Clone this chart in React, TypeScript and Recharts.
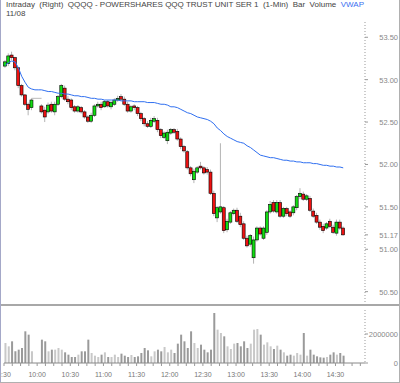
import React from "react";
import { ComposedChart, Bar, Line, XAxis, YAxis, ReferenceLine, Cell } from "recharts";

// 3-minute bars starting 09:31 (minutes after 09:30)
const FIRST_MIN = 1;
const BAR_MIN = 3;

const open = [
  53.16, 53.19, 53.29, 53.26, 53.14, 52.93, 52.82, 52.71, 52.67, null, null,
  52.69, 52.64, 52.62, 52.71, 52.62, 52.71, 52.80, 52.90, 52.77, 52.76,
  52.68, 52.63, 52.67, 52.62, 52.56, 52.51, 52.58, 52.69, 52.71, 52.68,
  52.74, 52.68, 52.71, 52.76, 52.80, 52.77, 52.71, 52.63, 52.69, 52.67,
  52.60, 52.54, 52.48, 52.45, 52.51, 52.52, 52.41, 52.32, 52.28, 52.37,
  52.41, 52.39, 52.30, 52.21, 52.15, 51.96, 51.82, 51.91, 51.98, 51.96,
  51.94, 51.91, 51.66, 51.37, 51.44, 51.49, 51.23, 51.32, 51.42, 51.46,
  51.39, 51.30, 51.13, 51.06, 50.90, 51.11, 51.25, 51.13, 51.20, 51.44,
  51.55, 51.44, 51.55, 51.39, 51.48, 51.44, 51.43, 51.49, 51.62, 51.65,
  51.59, 51.60, 51.45, 51.40, 51.32, 51.27, 51.25, 51.33, 51.26, 51.19,
  51.32, 51.25,
];
const close = [
  53.21, 53.28, 53.26, 53.14, 52.93, 52.82, 52.71, 52.65, 52.76, null, null,
  52.62, 52.56, 52.70, 52.63, 52.71, 52.80, 52.93, 52.77, 52.74, 52.67,
  52.63, 52.68, 52.62, 52.56, 52.51, 52.58, 52.69, 52.71, 52.67, 52.74,
  52.69, 52.73, 52.76, 52.78, 52.77, 52.71, 52.63, 52.68, 52.67, 52.60,
  52.54, 52.48, 52.45, 52.52, 52.54, 52.41, 52.34, 52.37, 52.38, 52.41,
  52.38, 52.30, 52.21, 52.16, 51.96, 51.89, 51.92, 51.96, 51.96, 51.90,
  51.91, 51.66, 51.42, 51.49, 51.50, 51.22, 51.33, 51.43, 51.46, 51.33,
  51.29, 51.13, 51.04, 51.16, 51.11, 51.25, 51.18, 51.25, 51.44, 51.53,
  51.45, 51.55, 51.39, 51.48, 51.42, 51.39, 51.50, 51.62, 51.66, 51.59,
  51.63, 51.46, 51.39, 51.32, 51.26, 51.22, 51.30, 51.27, 51.20, 51.32,
  51.25, 51.17,
];
const high = [
  53.23, 53.31, 53.33, 53.27, 53.15, 52.95, 52.83, 52.73, 52.78, null, null,
  52.71, 52.68, 52.73, 52.74, 52.74, 52.82, 52.95, 52.93, 52.81, 52.78,
  52.70, 52.70, 52.69, 52.64, 52.58, 52.61, 52.71, 52.74, 52.74, 52.76,
  52.76, 52.75, 52.78, 52.81, 52.83, 52.80, 52.74, 52.70, 52.71, 52.69,
  52.62, 52.56, 52.51, 52.55, 52.57, 52.55, 52.43, 52.39, 52.41, 52.43,
  52.43, 52.42, 52.32, 52.23, 52.17, 51.98, 51.95, 51.98, 52.03, 51.98,
  51.97, 51.94, 51.69, 51.51, 52.25, 51.51, 51.36, 51.45, 51.48, 51.49,
  51.43, 51.33, 51.16, 51.18, 51.15, 51.27, 51.27, 51.27, 51.46, 51.57,
  51.58, 51.58, 51.58, 51.50, 51.50, 51.46, 51.52, 51.64, 51.72, 51.68,
  51.65, 51.63, 51.48, 51.43, 51.35, 51.30, 51.32, 51.36, 51.29, 51.35,
  51.35, 51.27,
];
const low = [
  53.14, 53.16, 53.23, 53.11, 52.90, 52.80, 52.69, 52.58, 52.64, null, null,
  52.60, 52.50, 52.60, 52.61, 52.58, 52.69, 52.78, 52.75, 52.71, 52.64,
  52.61, 52.61, 52.60, 52.54, 52.49, 52.49, 52.56, 52.67, 52.64, 52.67,
  52.67, 52.65, 52.69, 52.74, 52.75, 52.69, 52.61, 52.61, 52.64, 52.57,
  52.51, 52.45, 52.43, 52.43, 52.49, 52.38, 52.31, 52.30, 52.24, 52.35,
  52.36, 52.28, 52.18, 52.14, 51.94, 51.86, 51.78, 51.89, 51.94, 51.88,
  51.88, 51.64, 51.39, 51.32, 51.42, 51.19, 51.20, 51.30, 51.40, 51.31,
  51.26, 51.11, 51.02, 51.03, 50.83, 51.09, 51.16, 51.11, 51.17, 51.42,
  51.43, 51.42, 51.37, 51.37, 51.39, 51.37, 51.40, 51.46, 51.59, 51.57,
  51.57, 51.44, 51.37, 51.30, 51.23, 51.19, 51.23, 51.25, 51.18, 51.16,
  51.23, 51.16,
];
const vwap = [
  53.17, 53.20, 53.22, 53.21, 53.14, 53.04, 52.97, 52.91, 52.89, 52.88, 52.88,
  52.88, 52.87, 52.86, 52.86, 52.85, 52.84, 52.84, 52.83, 52.83, 52.82,
  52.81, 52.81, 52.80, 52.80, 52.79, 52.78, 52.78, 52.77, 52.77, 52.76,
  52.76, 52.76, 52.76, 52.76, 52.75, 52.75, 52.75, 52.75, 52.74, 52.74,
  52.74, 52.74, 52.73, 52.73, 52.73, 52.72, 52.71, 52.71, 52.70, 52.68,
  52.68, 52.67, 52.65, 52.63, 52.61, 52.60, 52.58, 52.56, 52.55, 52.54,
  52.53, 52.51, 52.48, 52.43, 52.40, 52.36, 52.33, 52.31, 52.29, 52.27,
  52.26, 52.25, 52.22, 52.20, 52.17, 52.14, 52.11, 52.10, 52.09, 52.08,
  52.08, 52.07, 52.06, 52.05, 52.05, 52.04, 52.04, 52.03, 52.03, 52.02,
  52.02, 52.02, 52.01, 52.01, 52.00, 51.99, 51.99, 51.98, 51.98, 51.97,
  51.97, 51.96,
];
const volume = [
  1380000, 1150000, 1495000, 805000, 920000, 1035000, 2185000, 1955000, 805000, null, null,
  1610000, 1495000, 805000, 920000, 920000, 1035000, 920000, 736000, 575000, 414000,
  414000, 575000, 805000, 805000, 1610000, 690000, 506000, 414000, 575000, 736000,
  414000, 414000, 575000, 414000, 644000, 506000, 414000, 552000, 414000, 460000,
  690000, 1035000, 874000, 460000, 805000, 920000, 805000, 1104000, 736000, 920000,
  690000, 1334000, 1955000, 1495000, 1035000, 2185000, 1380000, 1035000, 1265000, 920000,
  736000, 920000, 3450000, 2300000, 2070000, 1840000, 1150000, 966000, 1334000, 1380000,
  1150000, 1495000, 1035000, 1334000, 2300000, 2346000, 1955000, 1265000, 1426000, 1150000,
  966000, 1196000, 920000, 736000, 506000, 575000, 506000, 690000, 575000, 2070000,
  506000, 920000, 575000, 460000, 391000, 368000, 414000, 575000, 736000, 575000,
  690000, 506000,
];

const timeTicks = [0, 30, 60, 90, 120, 150, 180, 210, 240, 270, 300];
const timeLabels = ["9:30", "10:00", "10:30", "11:00", "11:30", "12:00", "12:30", "13:00", "13:30", "14:00", "14:30"];
const minorTicks = [
  0, 7.5, 15, 22.5, 30, 37.5, 45, 52.5, 60, 67.5, 75, 82.5, 90, 97.5, 105, 112.5, 120, 127.5, 135, 142.5,
  150, 157.5, 165, 172.5, 180, 187.5, 195, 202.5, 210, 217.5, 225, 232.5, 240, 247.5, 255, 262.5, 270,
  277.5, 285, 292.5, 300, 307.5, 315, 322.5,
];
const priceTicks = [50.5, 51, 51.17, 51.5, 52, 52.5, 53, 53.5];
const volTicks = [0, 2000000];
const gapLine = { from: 25, to: 34, price: 52.78 };

const data = open.map((o, i) => ({
  t: FIRST_MIN + i * BAR_MIN,
  o,
  c: close[i],
  h: high[i],
  l: low[i],
  range: high[i] == null ? null : [low[i], high[i]],
  vwap: vwap[i],
  vol: volume[i],
}));

const X_DOMAIN: [number, number] = [0, 326.7];
const FONT = "'Liberation Sans', Arial, sans-serif";

const Candle = (props: any) => {
  const { x, y, width, height, payload } = props;
  if (!payload || payload.h == null) return null;
  const top = Math.min(y, y + height);
  const bot = Math.max(y, y + height);
  const span = payload.h - payload.l;
  const py = (p: number) => (span === 0 ? top : bot - ((p - payload.l) / span) * (bot - top));
  const yo = py(payload.o);
  const yc = py(payload.c);
  const up = payload.c >= payload.o;
  const cx = x + width / 2;
  return (
    <g>
      <line x1={cx} x2={cx} y1={top} y2={bot} stroke="#b4b4b4" strokeWidth={1} />
      <rect
        x={x}
        y={Math.min(yo, yc)}
        width={width}
        height={Math.max(1, Math.abs(yo - yc))}
        fill={up ? "#11dd11" : "#ee1111"}
        stroke="#000"
        strokeWidth={0.6}
      />
    </g>
  );
};

const PriceTick = (props: any) => (
  <text x={398} y={props.y} dy={3} textAnchor="end" fontSize={7.5} fontFamily={FONT} fill="#888">
    {Number(props.payload.value).toFixed(2)}
  </text>
);

const VolTick = (props: any) => (
  <text x={398} y={props.y} dy={3} textAnchor="end" fontSize={7.5} fontFamily={FONT} fill="#888">
    {props.payload.value}
  </text>
);

const TimeTick = (props: any) => {
  const idx = timeTicks.indexOf(props.payload.value);
  if (idx < 0) return null;
  return (
    <text x={props.x} y={props.y} dy={9} textAnchor="middle" fontSize={7} fontFamily={FONT} fill="#777">
      {timeLabels[idx]}
    </text>
  );
};

export default function App() {
  return (
    <div style={{ position: "absolute", left: 0, top: 0, width: 400, height: 383, background: "#fff", overflow: "hidden" }}>
      <div
        style={{
          position: "absolute",
          left: 6,
          top: 1,
          fontFamily: FONT,
          fontSize: 8,
          lineHeight: "8.5px",
          color: "#444",
          whiteSpace: "pre",
        }}
      >
        <div>
          {"Intraday  (Right)  QQQQ - POWERSHARES QQQ TRUST UNIT SER 1  (1-Min)  Bar  Volume  "}
          <span style={{ color: "#3b6ff0" }}>VWAP</span>
        </div>
        <div>11/08</div>
      </div>

      <div style={{ position: "absolute", left: 0, top: 0 }}>
        <ComposedChart width={400} height={305} data={data} margin={{ top: 22, right: 0, bottom: 3, left: 4 }}>
          <XAxis type="number" dataKey="t" domain={X_DOMAIN} hide />
          <YAxis
            yAxisId="p"
            orientation="right"
            width={35}
            domain={[50.378, 53.68]}
            ticks={priceTicks}
            interval={0}
            tick={PriceTick}
            tickSize={3}
            tickLine={{ stroke: "#999" }}
            axisLine={{ stroke: "#999", strokeDasharray: "1 2" }}
          />
          <ReferenceLine
            yAxisId="p"
            segment={[
              { x: gapLine.from, y: gapLine.price },
              { x: gapLine.to, y: gapLine.price },
            ]}
            stroke="#bbb"
          />
          <Bar yAxisId="p" dataKey="range" barSize={3} shape={Candle} isAnimationActive={false} />
          <Line
            yAxisId="p"
            dataKey="vwap"
            stroke="#2f6ff0"
            strokeWidth={1}
            dot={false}
            connectNulls
            isAnimationActive={false}
          />
        </ComposedChart>
      </div>

      <div style={{ position: "absolute", left: 0, top: 304, width: 400, height: 2, background: "#a8a8a8" }} />

      <div style={{ position: "absolute", left: 0, top: 305 }}>
        <ComposedChart width={400} height={78} data={data} margin={{ top: 5, right: 0, bottom: 0, left: 4 }}>
          <XAxis
            type="number"
            dataKey="t"
            domain={X_DOMAIN}
            ticks={minorTicks}
            interval={0}
            height={20}
            tickSize={3}
            tickLine={{ stroke: "#999" }}
            axisLine={{ stroke: "#888" }}
            tick={TimeTick}
          />
          <YAxis
            orientation="right"
            width={35}
            domain={[0, 3655000]}
            ticks={volTicks}
            interval={0}
            tick={VolTick}
            tickSize={3}
            tickLine={{ stroke: "#999" }}
            axisLine={{ stroke: "#999", strokeDasharray: "1 2" }}
          />
          <Bar dataKey="vol" barSize={2} isAnimationActive={false}>
            {data.map((d, i) => (
              <Cell key={i} fill={d.c != null && d.o != null && d.c >= d.o ? "#c8c8c8" : "#9a9a9a"} />
            ))}
          </Bar>
        </ComposedChart>
      </div>

      <div style={{ position: "absolute", left: 0, top: 0, width: 1, height: 383, background: "#a4a8c8" }} />
      <div style={{ position: "absolute", right: 0, top: 0, width: 1, height: 383, background: "#b0b0b0" }} />
      <div style={{ position: "absolute", left: 0, bottom: 0, width: 400, height: 1, background: "#b0b0b0" }} />
    </div>
  );
}
